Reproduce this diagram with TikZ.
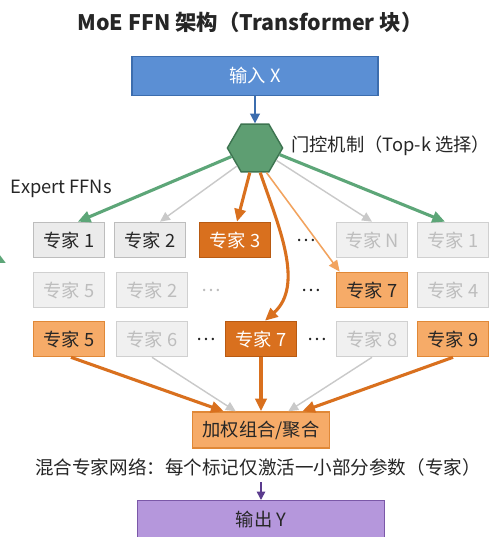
\documentclass[tikz,border=0pt]{standalone}
\usepackage{fontspec}
\setmainfont{Noto Sans CJK SC}
\usetikzlibrary{arrows.meta,shapes.geometric}

\definecolor{inblue}{HTML}{5B8FD4}
\definecolor{inline}{HTML}{3C6DAE}
\definecolor{gatefill}{HTML}{5E9E72}
\definecolor{gateline}{HTML}{3D7450}
\definecolor{selgreen}{HTML}{5DA678}
\definecolor{hotfill}{HTML}{D9701E}
\definecolor{hotline}{HTML}{B85A12}
\definecolor{warmfill}{HTML}{F6AB68}
\definecolor{warmline}{HTML}{E08837}
\definecolor{warmarrow}{HTML}{F2A35E}
\definecolor{plainfill}{HTML}{EBEBEB}
\definecolor{plainline}{HTML}{BDBDBD}
\definecolor{fadefill}{HTML}{F0F0F0}
\definecolor{fadeline}{HTML}{D0D0D0}
\definecolor{fadetext}{HTML}{BDBDBD}
\definecolor{idlegrey}{HTML}{C9C9C9}
\definecolor{textdark}{HTML}{262626}
\definecolor{outfill}{HTML}{B597DC}
\definecolor{outline}{HTML}{7B58A8}
\definecolor{outarrow}{HTML}{5B3C8E}

\tikzset{
  lbl/.style={font=\fontsize{13}{15}\selectfont},
  expert/.style={lbl, minimum width=1.78cm, minimum height=0.88cm, inner sep=0pt, line width=1pt},
  plain/.style={expert, draw=plainline, fill=plainfill, text=textdark},
  faded/.style={expert, draw=fadeline, fill=fadefill, text=fadetext},
  hot/.style={expert, draw=hotline, fill=hotfill, text=white},
  warm/.style={expert, draw=warmline, fill=warmfill, text=textdark},
  dots/.style={lbl, inner sep=0pt, text=textdark},
  pick/.style={line width=2.2pt, -{Triangle[length=9pt,width=8pt]}},
  idle/.style={line width=1pt, draw=idlegrey, -{Triangle[length=7pt,width=6.5pt]}, idlegrey},
}

\begin{document}
\begin{tikzpicture}[x=0.025cm, y=-0.025cm]
  \useasboundingbox (0,0) rectangle (489,537);
  \clip (0,0) rectangle (489,537);
  \fill[white] (0,0) rectangle (489,537);

  % title and input
  \node[font=\fontsize{15.2}{18}\selectfont\bfseries, text=textdark] (title) at (250,22) {MoE FFN 架构（Transformer 块）};
  \node[lbl, draw=inline, fill=inblue, text=white, line width=1pt, minimum width=6.15cm, minimum height=0.97cm] (input) at (255,76) {输入 X};

  % gate
  \node[regular polygon, regular polygon sides=6, minimum size=1.38cm, inner sep=0pt, draw=gateline, fill=gatefill, line width=1pt] (gate) at (255,148) {};
  \node[lbl, anchor=west, inner sep=0pt, text=textdark] (gatelbl) at (291,146) {门控机制（Top-k 选择）};
  \node[lbl, anchor=west, text=textdark] (ffns) at (6,189) {Expert FFNs};

  \draw[line width=1.1pt, draw=inline, -{Triangle[length=7pt,width=7pt]}, inline] (input) -- (gate);

  % row 1
  \node[plain] (e11) at (69,240) {专家 1};
  \node[plain] (e12) at (150,240) {专家 2};
  \node[hot] (e13) at (235,240) {专家 3};
  \node[dots] (d11) at (306,240) {…};
  \node[faded] (e1n) at (372,240) {专家 N};
  \node[faded] (e1r) at (453,240) {专家 1};

  % row 2
  \node[faded] (e25) at (69,290) {专家 5};
  \node[faded] (e22) at (152,290) {专家 2};
  \node[dots, text=fadetext] (d21) at (211,290) {…};
  \node[dots] (d22) at (311,290) {…};
  \node[warm] (e27) at (372,290) {专家 7};
  \node[faded] (e24) at (453,290) {专家 4};

  % row 3
  \node[warm] (e35) at (69,339) {专家 5};
  \node[faded] (e36) at (152,339) {专家 6};
  \node[dots] (d31) at (206,339) {…};
  \node[hot] (e37) at (261,339) {专家 7};
  \node[dots] (d32) at (317,339) {…};
  \node[faded] (e38) at (372,339) {专家 8};
  \node[warm] (e39) at (453,339) {专家 9};

  % routing from the gate
  \draw[pick, selgreen] (gate.200) -- ([xshift=0.22cm]e11.north);
  \draw[idle] (gate.225) -- ([xshift=0.25cm]e12.north);
  \draw[pick, hotfill] (gate.258) -- ([xshift=0.05cm]e13.north);
  \draw[pick, hotfill] (gate.282) .. controls (278,225) and (305,285) .. ([xshift=0.1cm]e37.north);
  \draw[line width=1.1pt, warmarrow, -{Triangle[length=8pt,width=7pt]}] (gate.295) -- ([xshift=0.1cm]e27.north west);
  \draw[idle] (gate.330) -- (e1n.north);
  \draw[pick, selgreen] (gate.345) -- ([xshift=-0.2cm]e1r.north);
  \draw[pick, selgreen] (-8,256) -- (6,263);

  % aggregation
  \node[lbl, draw=warmline, fill=warmfill, text=textdark, line width=1pt, minimum width=3.43cm, minimum height=0.9cm] (agg) at (261,430) {加权组合/聚合};

  \draw[pick, hotfill] ([xshift=0.05cm]e35.south) -- ([xshift=0.8cm]agg.north west);
  \draw[idle] (e36.south) -- ([xshift=1.1cm]agg.north west);
  \draw[pick, hotfill] (e37.south) -- (agg.north);
  \draw[idle] (e38.south) -- ([xshift=-1.05cm]agg.north east);
  \draw[pick, hotfill] (e39.south) -- ([xshift=-0.7cm]agg.north east);

  % note and output
  \node[lbl, font=\fontsize{13.2}{15}\selectfont, text=textdark] (note) at (258,467) {混合专家网络：每个标记仅激活一小部分参数（专家）};
  \node[lbl, draw=outline, fill=outfill, text=textdark, line width=1pt, minimum width=6.17cm, minimum height=1.1cm, anchor=north] (output) at (261,500) {};
  \node[lbl, text=textdark] (outlbl) at (261,520) {输出 Y};
  \coordinate (outtop) at (261,482);
  \draw[line width=1.1pt, outarrow, -{Triangle[length=6pt,width=6pt]}] (outtop) -- (output.north);
\end{tikzpicture}
\end{document}
